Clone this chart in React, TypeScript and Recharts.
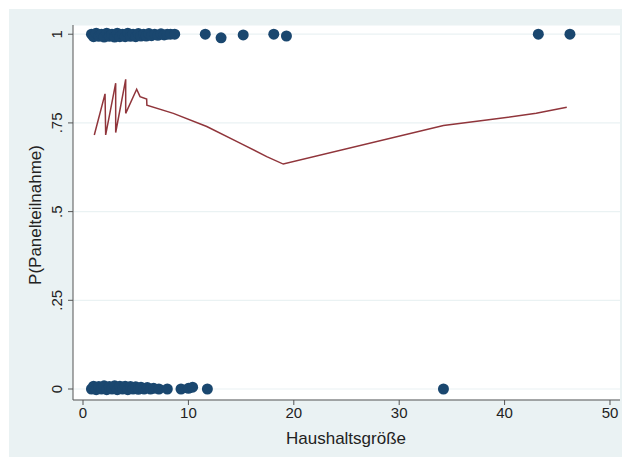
import React from 'react';
import { ScatterChart, Scatter, XAxis, YAxis, CartesianGrid, Label } from 'recharts';

// Beobachtungen mit Panelteilnahme = 1 (leicht gejittert)
const teilnahmeJa = [
  { x: 0.8, y: 1.0 }, { x: 1.0, y: 0.993 }, { x: 1.25, y: 1.003 }, { x: 1.5, y: 0.994 },
  { x: 1.75, y: 1.0 }, { x: 2.0, y: 0.992 }, { x: 2.25, y: 1.003 }, { x: 2.5, y: 0.994 },
  { x: 2.75, y: 1.0 }, { x: 3.0, y: 0.992 }, { x: 3.25, y: 1.003 }, { x: 3.5, y: 0.993 },
  { x: 3.75, y: 1.0 }, { x: 4.0, y: 0.993 }, { x: 4.25, y: 1.003 }, { x: 4.5, y: 0.994 },
  { x: 4.75, y: 1.0 }, { x: 5.0, y: 0.993 }, { x: 5.25, y: 1.002 }, { x: 5.5, y: 0.995 },
  { x: 5.75, y: 1.0 }, { x: 6.0, y: 0.995 }, { x: 6.25, y: 1.002 }, { x: 6.5, y: 0.996 },
  { x: 6.8, y: 1.0 }, { x: 7.1, y: 0.997 }, { x: 7.4, y: 1.001 }, { x: 7.7, y: 0.998 },
  { x: 8.0, y: 1.0 }, { x: 8.3, y: 1.0 }, { x: 8.7, y: 1.0 }, { x: 11.6, y: 1.0 },
  { x: 13.1, y: 0.99 }, { x: 15.2, y: 0.998 }, { x: 18.1, y: 1.0 }, { x: 19.3, y: 0.995 },
  { x: 43.2, y: 1.0 }, { x: 46.2, y: 1.0 },
];

// Beobachtungen mit Panelteilnahme = 0
const teilnahmeNein = [
  { x: 0.8, y: 0.0 }, { x: 1.0, y: 0.008 }, { x: 1.25, y: -0.002 }, { x: 1.5, y: 0.007 },
  { x: 1.75, y: 0.0 }, { x: 2.0, y: 0.009 }, { x: 2.25, y: -0.002 }, { x: 2.5, y: 0.007 },
  { x: 2.75, y: 0.0 }, { x: 3.0, y: 0.009 }, { x: 3.25, y: -0.002 }, { x: 3.5, y: 0.008 },
  { x: 3.75, y: 0.0 }, { x: 4.0, y: 0.008 }, { x: 4.25, y: -0.002 }, { x: 4.5, y: 0.007 },
  { x: 4.75, y: 0.0 }, { x: 5.0, y: 0.006 }, { x: 5.25, y: -0.001 }, { x: 5.5, y: 0.005 },
  { x: 5.8, y: 0.0 }, { x: 6.1, y: 0.004 }, { x: 6.4, y: 0.0 }, { x: 6.7, y: 0.002 },
  { x: 7.2, y: 0.0 }, { x: 8.0, y: 0.0 }, { x: 9.3, y: 0.0 }, { x: 10.0, y: 0.002 },
  { x: 10.4, y: 0.005 }, { x: 11.8, y: 0.0 }, { x: 34.2, y: 0.0 },
];

// Geglättete Kurve (in Datenreihenfolge verbunden)
const lowess = [
  { x: 1.07, y: 0.716 }, { x: 2.09, y: 0.832 }, { x: 2.15, y: 0.716 }, { x: 3.1, y: 0.862 },
  { x: 3.1, y: 0.723 }, { x: 4.05, y: 0.873 }, { x: 4.05, y: 0.777 }, { x: 5.09, y: 0.845 },
  { x: 5.41, y: 0.824 }, { x: 6.04, y: 0.817 }, { x: 6.06, y: 0.8 }, { x: 8.57, y: 0.777 },
  { x: 11.74, y: 0.74 }, { x: 14.9, y: 0.693 }, { x: 17.43, y: 0.655 }, { x: 19.0, y: 0.634 },
  { x: 34.2, y: 0.743 }, { x: 38.3, y: 0.758 }, { x: 43.0, y: 0.777 }, { x: 45.9, y: 0.794 },
];

const xTicks = [0, 10, 20, 30, 40, 50];
const yTicks = [0, 0.25, 0.5, 0.75, 1];
const yTickLabels = ['0', '.25', '.5', '.75', '1'];

const FONT = '"Liberation Sans", Arial, sans-serif';
const BG = '#eaf2f3';

const Dot = (props: any) => <circle cx={props.cx} cy={props.cy} r={5.5} fill="#1a476f" />;

const YTick = (props: any) => {
  const { y, payload } = props;
  const i = yTicks.indexOf(payload.value);
  return (
    <text
      x={57}
      y={y}
      transform={`rotate(-90 57 ${y})`}
      textAnchor="middle"
      dominantBaseline="central"
      fontSize={15}
      fontFamily={FONT}
      fill="#222"
    >
      {i >= 0 ? yTickLabels[i] : payload.value}
    </text>
  );
};

export default function App() {
  return (
    <div style={{ position: 'absolute', left: 0, top: 0, width: 622, height: 457, background: '#fff' }}>
      <div style={{ position: 'absolute', left: 9, top: 9, width: 613, height: 448, background: BG }} />
      <div style={{ position: 'absolute', left: 0, top: 0 }}>
        <ScatterChart width={622} height={457} margin={{ top: 25, right: 2, bottom: 0, left: 0 }}>
          <CartesianGrid vertical={false} stroke={BG} strokeWidth={1.2} fill="#fff" />
          <XAxis
            type="number"
            dataKey="x"
            domain={[-0.95, 50.95]}
            ticks={xTicks}
            interval={0}
            height={57}
            stroke="#555"
            tickSize={5}
            tick={{ fontSize: 15, fontFamily: FONT, fill: '#222' }}
          >
            <Label
              content={() => (
                <text x={346} y={444} textAnchor="middle" fontSize={17} fontFamily={FONT} fill="#222">
                  Haushaltsgröße
                </text>
              )}
            />
          </XAxis>
          <YAxis
            type="number"
            dataKey="y"
            domain={[-0.031, 1.026]}
            ticks={yTicks}
            interval={0}
            width={73}
            stroke="#555"
            tickSize={5}
            tick={<YTick />}
          >
            <Label
              content={() => (
                <text
                  x={35}
                  y={215}
                  transform="rotate(-90 35 215)"
                  textAnchor="middle"
                  dominantBaseline="central"
                  fontSize={17}
                  fontFamily={FONT}
                  fill="#222"
                >
                  P(Panelteilnahme)
                </text>
              )}
            />
          </YAxis>
          <Scatter data={teilnahmeJa} shape={Dot} isAnimationActive={false} />
          <Scatter data={teilnahmeNein} shape={Dot} isAnimationActive={false} />
          <Scatter
            data={lowess}
            shape={() => <g />}
            line={{ stroke: '#90353b', strokeWidth: 1.5 }}
            isAnimationActive={false}
          />
        </ScatterChart>
      </div>
    </div>
  );
}
